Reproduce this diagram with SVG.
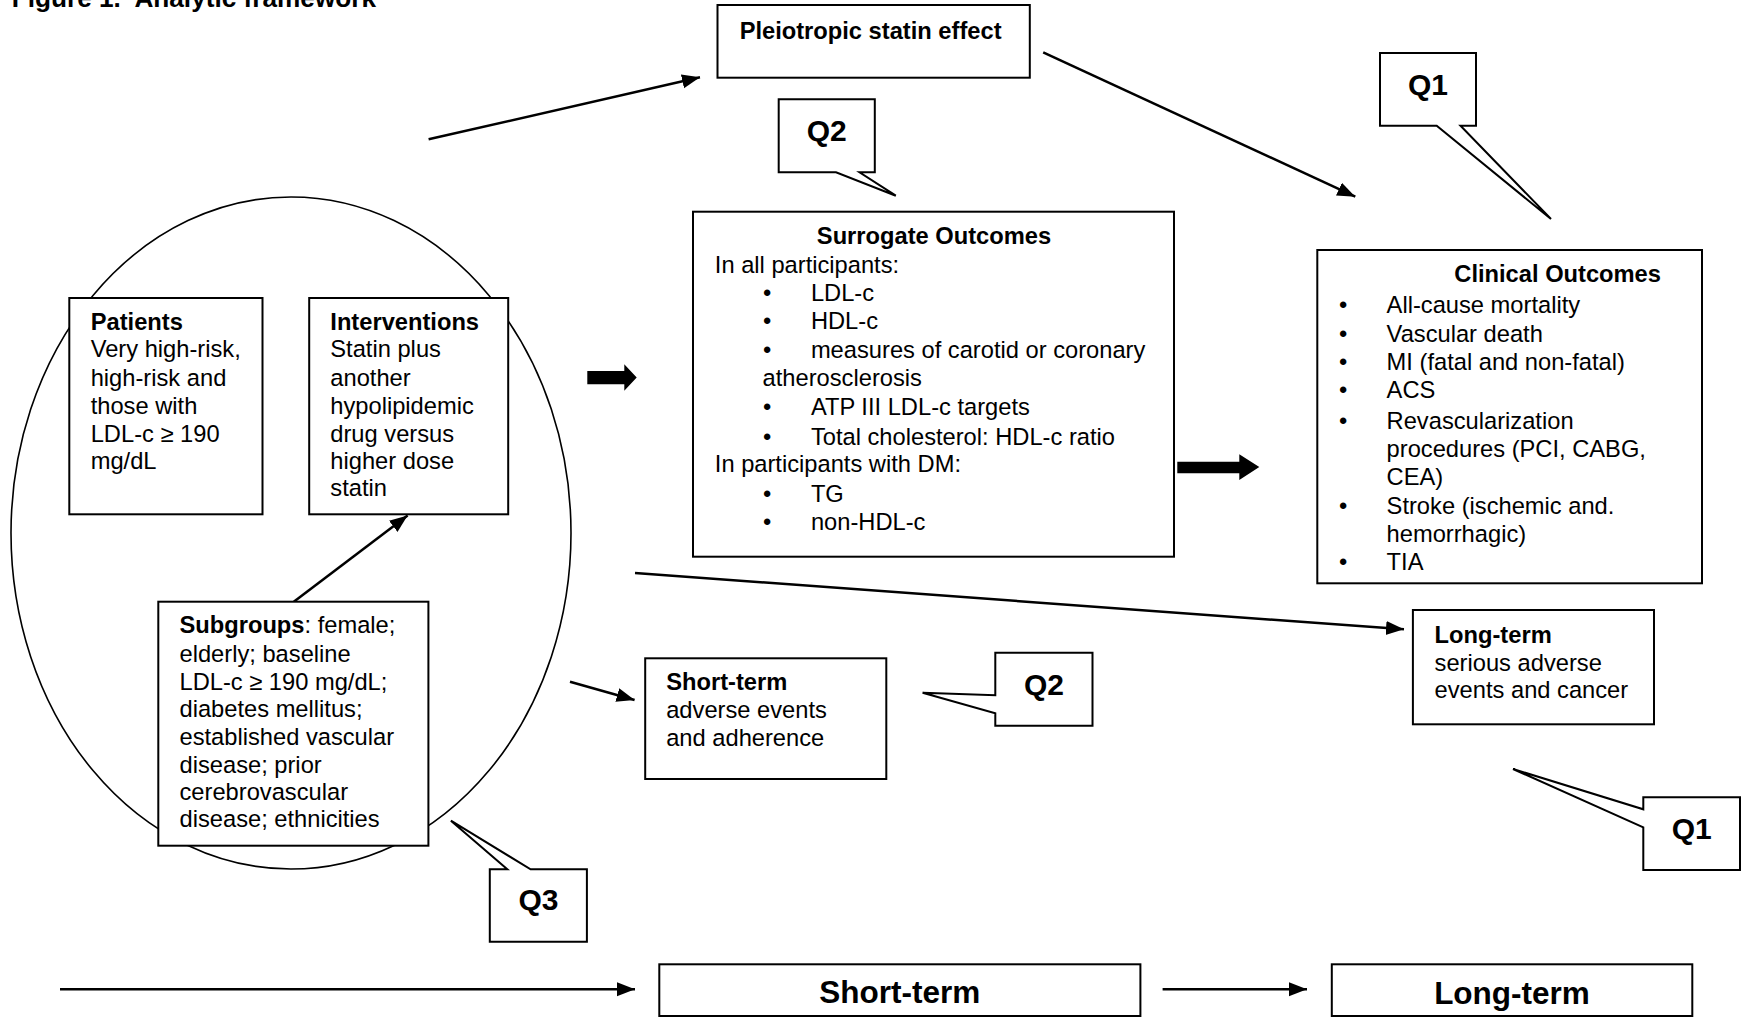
<svg xmlns="http://www.w3.org/2000/svg" width="1741" height="1021" viewBox="0 0 1741 1021">
<style>
text{font-family:"Liberation Sans",Arial,sans-serif;fill:#000}
.t{font-size:23.7px}
.b{font-weight:bold}
.q{font-size:30px;font-weight:bold;text-anchor:middle}
.big{font-size:31.5px;font-weight:bold;text-anchor:middle}
.box{fill:#fff;stroke:#000;stroke-width:2}
.ln{fill:none;stroke:#000;stroke-width:2.5}
.call{fill:#fff;stroke:#000;stroke-width:2;stroke-linejoin:miter}
</style>
<defs>
<marker id="ah" markerUnits="userSpaceOnUse" markerWidth="20" markerHeight="16" refX="18" refY="7" orient="auto">
<path d="M0,0 L18,7 L0,14 Z" fill="#000"/>
</marker>
</defs>
<rect width="1741" height="1021" fill="#fff"/>
<text x="11.7" y="7" class="b" style="font-size:26.2px">Figure 1.&#160; Analytic framework</text>

<g id="pico-ellipse">
<ellipse cx="291" cy="533" rx="280" ry="336" fill="none" stroke="#000" stroke-width="1.6"/>
</g>

<g id="connectors">
<line class="ln" x1="428.6" y1="139.3" x2="700" y2="77.3" marker-end="url(#ah)"/>
<line class="ln" x1="1043.2" y1="52.3" x2="1355.3" y2="196.7" marker-end="url(#ah)"/>
<line class="ln" x1="293.8" y1="601.7" x2="407.6" y2="515.5" marker-end="url(#ah)"/>
<line class="ln" x1="635" y1="573" x2="1404" y2="629.3" marker-end="url(#ah)"/>
<line class="ln" x1="570" y1="681.7" x2="634.6" y2="700" marker-end="url(#ah)"/>
<line class="ln" x1="60" y1="989.3" x2="635" y2="989.3" marker-end="url(#ah)"/>
<line class="ln" x1="1162.6" y1="989.3" x2="1307" y2="989.3" marker-end="url(#ah)"/>
<path d="M587.3,371 H624.3 V364.3 L636.7,377.5 L624.3,390.7 V384.3 H587.3 Z" fill="#000"/>
<path d="M1177.3,461.7 H1239.3 V454.3 L1259.3,467 L1239.3,480 V473.3 H1177.3 Z" fill="#000"/>
</g>

<g id="pleiotropic">
<rect class="box" x="717.5" y="5" width="312.3" height="72.7"/>
<text x="870.6" y="39" class="t b" text-anchor="middle">Pleiotropic statin effect</text>
</g>

<g id="q1-top">
<path class="call" d="M1380,53 H1476 V125.7 H1460.5 L1551,219 L1436.7,125.7 H1380 Z"/>
<text x="1427.9" y="95" class="q">Q1</text>
</g>

<g id="q2-top">
<path class="call" d="M778.7,99.3 H874.8 V172.3 H859.5 L895.8,195.7 L836,172.3 H778.7 Z"/>
<text x="826.8" y="141" class="q">Q2</text>
</g>

<g id="patients">
<rect class="box" x="69.3" y="298" width="193.2" height="216.3"/>
<text class="t" x="90.7" y="330"><tspan class="b">Patients</tspan><tspan x="90.7" y="357.3">Very high-risk,</tspan><tspan x="90.7" y="386">high-risk and</tspan><tspan x="90.7" y="414">those with</tspan><tspan x="90.7" y="441.7">LDL-c ≥ 190</tspan><tspan x="90.7" y="469.3">mg/dL</tspan></text>
</g>

<g id="interventions">
<rect class="box" x="309.2" y="298" width="199" height="216.3"/>
<text class="t" x="330.3" y="330"><tspan class="b">Interventions</tspan><tspan x="330.3" y="357.3">Statin plus</tspan><tspan x="330.3" y="386">another</tspan><tspan x="330.3" y="414">hypolipidemic</tspan><tspan x="330.3" y="441.7">drug versus</tspan><tspan x="330.3" y="469.3">higher dose</tspan><tspan x="330.3" y="495.7">statin</tspan></text>
</g>

<g id="subgroups">
<rect class="box" x="158.3" y="601.7" width="270.1" height="244"/>
<text class="t" x="179.5" y="633.3"><tspan class="b">Subgroups</tspan>: female;<tspan x="179.5" y="661.7">elderly; baseline</tspan><tspan x="179.5" y="690">LDL-c ≥ 190 mg/dL;</tspan><tspan x="179.5" y="717.3">diabetes mellitus;</tspan><tspan x="179.5" y="745">established vascular</tspan><tspan x="179.5" y="773.3">disease; prior</tspan><tspan x="179.5" y="800">cerebrovascular</tspan><tspan x="179.5" y="827.3">disease; ethnicities</tspan></text>
</g>

<g id="surrogate">
<rect class="box" x="693" y="211.7" width="481" height="345"/>
<text class="t b" x="934" y="244" text-anchor="middle">Surrogate Outcomes</text>
<text class="t" x="714.8" y="272.7">In all participants:</text>
<text class="t" x="763" y="300.7">•</text><text class="t" x="810.9" y="300.7">LDL-c</text>
<text class="t" x="763" y="329.3">•</text><text class="t" x="810.9" y="329.3">HDL-c</text>
<text class="t" x="763" y="358.3">•</text><text class="t" x="810.9" y="358.3">measures of carotid or coronary</text>
<text class="t" x="762.6" y="386">atherosclerosis</text>
<text class="t" x="763" y="415">•</text><text class="t" x="810.9" y="415">ATP III LDL-c targets</text>
<text class="t" x="763" y="445">•</text><text class="t" x="810.9" y="445">Total cholesterol: HDL-c ratio</text>
<text class="t" x="714.8" y="472">In participants with DM:</text>
<text class="t" x="763" y="501.7">•</text><text class="t" x="810.9" y="501.7">TG</text>
<text class="t" x="763" y="530">•</text><text class="t" x="810.9" y="530">non-HDL-c</text>
</g>

<g id="clinical">
<rect class="box" x="1317.3" y="250" width="384.7" height="333.3"/>
<text class="t b" x="1454.3" y="282.3">Clinical Outcomes</text>
<text class="t" x="1339" y="312.7">•</text><text class="t" x="1386.6" y="312.7">All-cause mortality</text>
<text class="t" x="1339" y="341.7">•</text><text class="t" x="1386.6" y="341.7">Vascular death</text>
<text class="t" x="1339" y="370">•</text><text class="t" x="1386.6" y="370">MI (fatal and non-fatal)</text>
<text class="t" x="1339" y="398.3">•</text><text class="t" x="1386.6" y="398.3">ACS</text>
<text class="t" x="1339" y="429">•</text><text class="t" x="1386.6" y="429">Revascularization</text>
<text class="t" x="1386.6" y="456.7">procedures (PCI, CABG,</text>
<text class="t" x="1386.6" y="485">CEA)</text>
<text class="t" x="1339" y="514">•</text><text class="t" x="1386.6" y="514">Stroke (ischemic and.</text>
<text class="t" x="1386.6" y="541.7">hemorrhagic)</text>
<text class="t" x="1339" y="570">•</text><text class="t" x="1386.6" y="570">TIA</text>
</g>

<g id="short-term-ae">
<rect class="box" x="645.2" y="658.3" width="241.1" height="120.7"/>
<text class="t" x="666.2" y="690"><tspan class="b">Short-term</tspan><tspan x="666.2" y="718.3">adverse events</tspan><tspan x="666.2" y="745.7">and adherence</tspan></text>
</g>

<g id="q2-mid">
<path class="call" d="M995.3,652.7 H1092.5 V725.7 H995.3 V713.3 L922.6,692.7 L995.3,695.3 Z"/>
<text x="1043.9" y="695" class="q">Q2</text>
</g>

<g id="long-term-ae">
<rect class="box" x="1412.9" y="610" width="241.1" height="114.3"/>
<text class="t" x="1434.6" y="642.7"><tspan class="b">Long-term</tspan><tspan x="1434.6" y="670.7">serious adverse</tspan><tspan x="1434.6" y="698.3">events and cancer</tspan></text>
</g>

<g id="q1-bottom">
<path class="call" d="M1643.3,797.3 H1740 V870 H1643.3 V827.3 L1513,769 L1643.3,809.3 Z"/>
<text x="1691.7" y="839.3" class="q">Q1</text>
</g>

<g id="q3">
<path class="call" d="M489.8,869.3 H507.3 L450.9,820.7 L530.6,869.3 H586.9 V941.7 H489.8 Z"/>
<text x="538.4" y="910" class="q">Q3</text>
</g>

<g id="short-term-bar">
<rect class="box" x="659.3" y="964.3" width="481.1" height="51.7"/>
<text x="899.8" y="1003.3" class="big">Short-term</text>
</g>

<g id="long-term-bar">
<rect class="box" x="1331.8" y="964.3" width="360.5" height="51.7"/>
<text x="1512" y="1004" class="big">Long-term</text>
</g>
</svg>
